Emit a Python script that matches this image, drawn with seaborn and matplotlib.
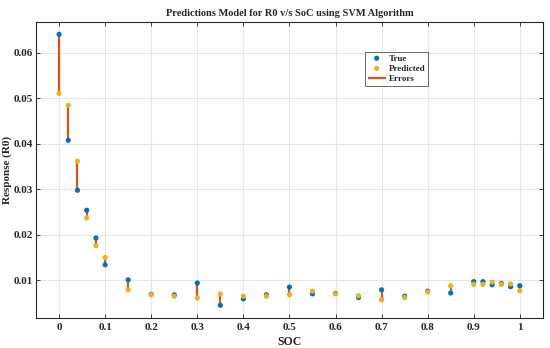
import matplotlib
import numpy as np
import pandas as pd
import seaborn as sns
from matplotlib import pyplot as plt

matplotlib.use("Agg")

# SOC values and responses
soc = [0.0, 0.02, 0.04, 0.06, 0.08, 0.1, 0.15, 0.2, 0.25, 0.3, 0.35, 0.4, 0.45,
       0.5, 0.55, 0.6, 0.65, 0.7, 0.75, 0.8, 0.85, 0.9, 0.92, 0.94, 0.96, 0.98, 1.0]
true_r0 = [0.0641, 0.0408, 0.0298, 0.0254, 0.0193, 0.0134, 0.0101, 0.0069, 0.0068,
           0.0094, 0.0045, 0.0059, 0.0068, 0.0085, 0.0070, 0.0071, 0.0062, 0.0079,
           0.0065, 0.0076, 0.0072, 0.0097, 0.0097, 0.0090, 0.0093, 0.0086, 0.0088]
pred_r0 = [0.0511, 0.0485, 0.0362, 0.0237, 0.0176, 0.0150, 0.0079, 0.0068, 0.0065,
           0.0061, 0.0070, 0.0065, 0.0065, 0.0068, 0.0076, 0.0070, 0.0066, 0.0057,
           0.0062, 0.0074, 0.0088, 0.0091, 0.0091, 0.0096, 0.0091, 0.0092, 0.0077]

x_ticks = [0, 0.1, 0.2, 0.3, 0.4, 0.5, 0.6, 0.7, 0.8, 0.9, 1]
x_tick_labels = ["0", "0.1", "0.2", "0.3", "0.4", "0.5", "0.6", "0.7", "0.8", "0.9", "1"]
y_ticks = [0.01, 0.02, 0.03, 0.04, 0.05, 0.06]

# MATLAB-like colours
_BLUE = "#0072BD"
_ORANGE = "#D95319"
_YELLOW = "#EDB120"

sns.set_style("whitegrid", {"grid.color": "#e6e6e6", "axes.edgecolor": "#262626"})
plt.rcParams["font.family"] = ["Liberation Serif", "DejaVu Serif"]
plt.rcParams["font.weight"] = "bold"

df = pd.DataFrame({"SOC": soc, "True": true_r0, "Predicted": pred_r0})

fig = plt.figure(figsize=(5.5, 3.48), dpi=100)
ax = fig.add_axes([0.0655, 0.0862, 0.9215, 0.8506])

# Error bars between true and predicted values
ax.vlines(df["SOC"], df["True"], df["Predicted"], color=_ORANGE, linewidth=1.6,
          label="Errors", zorder=2)
sns.scatterplot(data=df, x="SOC", y="True", ax=ax, color=_BLUE, s=14,
                edgecolor="none", label="True", zorder=3)
sns.scatterplot(data=df, x="SOC", y="Predicted", ax=ax, color=_YELLOW, s=14,
                edgecolor="none", label="Predicted", zorder=3)

ax.set_xlim(-0.05, 1.05)
ax.set_ylim(0.0017, 0.0668)
ax.set_xticks(x_ticks)
ax.set_xticklabels(x_tick_labels)
ax.set_yticks(y_ticks)
ax.set_yticklabels([f"{v:g}" for v in y_ticks])
ax.tick_params(axis="both", direction="in", length=3, labelsize=8, width=0.6,
               top=True, right=True, bottom=True, left=True)
ax.tick_params(axis="y", pad=2.5)
for label in ax.get_xticklabels() + ax.get_yticklabels():
    label.set_fontweight("bold")
for spine in ax.spines.values():
    spine.set_linewidth(0.8)

ax.set_title("Predictions Model for R0 v/s SoC using SVM Algorithm",
             fontsize=7.5, fontweight="bold", pad=4)
ax.set_xlabel("SOC", fontsize=8.5, fontweight="bold", labelpad=3)
ax.set_ylabel("Response (R0)", fontsize=8, fontweight="bold")
ax.yaxis.set_label_coords(-0.047, 0.5)

# Legend order: True, Predicted, Errors
handles, labels = ax.get_legend_handles_labels()
order = [labels.index(n) for n in ["True", "Predicted", "Errors"]]
leg = ax.legend([handles[i] for i in order], [labels[i] for i in order],
                loc="upper left", bbox_to_anchor=(0.649, 0.9), fontsize=6.5,
                frameon=True, fancybox=False, edgecolor="#262626",
                handlelength=2.0, handletextpad=0.3, borderpad=0.3,
                labelspacing=0.2, borderaxespad=0)
leg.get_frame().set_linewidth(0.6)
for t in leg.get_texts():
    t.set_fontweight("bold")

fig.savefig("out.png", dpi=100)
